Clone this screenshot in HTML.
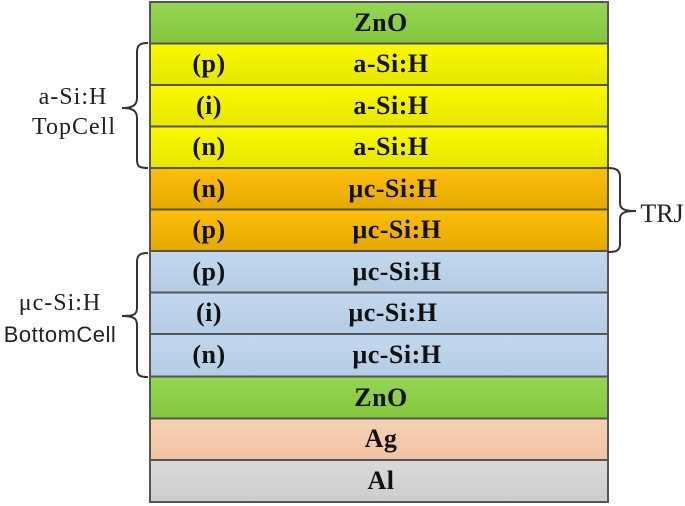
<!DOCTYPE html>
<html><head><meta charset="utf-8"><style>
html,body{margin:0;padding:0;background:#fff;width:685px;height:506px;overflow:hidden}
svg{display:block}
.t{font-family:"Liberation Serif",serif;font-weight:bold;font-size:26px;letter-spacing:0.5px;fill:#111}
.s{font-family:"Liberation Serif",serif;font-size:24px;letter-spacing:1px;fill:#222}
</style></head><body>
<svg width="685" height="506" viewBox="0 0 685 506" xmlns="http://www.w3.org/2000/svg">
<defs>
<linearGradient id="g" x1="0" y1="0" x2="0" y2="1"><stop offset="0" stop-color="#95d653"/><stop offset="1" stop-color="#84c73e"/></linearGradient>
<linearGradient id="y" x1="0" y1="0" x2="0" y2="1"><stop offset="0" stop-color="#fafa00"/><stop offset="1" stop-color="#e6e600"/></linearGradient>
<linearGradient id="o" x1="0" y1="0" x2="0" y2="1"><stop offset="0" stop-color="#fdbf0c"/><stop offset="1" stop-color="#e4a800"/></linearGradient>
<linearGradient id="b" x1="0" y1="0" x2="0" y2="1"><stop offset="0" stop-color="#c2d8ee"/><stop offset="1" stop-color="#b4cce3"/></linearGradient>
<linearGradient id="a" x1="0" y1="0" x2="0" y2="1"><stop offset="0" stop-color="#f6d2b6"/><stop offset="1" stop-color="#f0c4a2"/></linearGradient>
<linearGradient id="l" x1="0" y1="0" x2="0" y2="1"><stop offset="0" stop-color="#dadada"/><stop offset="1" stop-color="#cdcdcd"/></linearGradient>
</defs>
<g stroke="#555" stroke-width="2">
<rect x="150" y="2" width="458" height="41.5" fill="url(#g)"/>
<rect x="150" y="43.5" width="458" height="41.5" fill="url(#y)"/>
<rect x="150" y="85" width="458" height="41.5" fill="url(#y)"/>
<rect x="150" y="126.5" width="458" height="41.5" fill="url(#y)"/>
<rect x="150" y="168" width="458" height="41.5" fill="url(#o)"/>
<rect x="150" y="209.5" width="458" height="41.5" fill="url(#o)"/>
<rect x="150" y="251" width="458" height="41.5" fill="url(#b)"/>
<rect x="150" y="292.5" width="458" height="41.5" fill="url(#b)"/>
<rect x="150" y="334" width="458" height="42.5" fill="url(#b)"/>
<rect x="150" y="376.5" width="458" height="42" fill="url(#g)"/>
<rect x="150" y="418.5" width="458" height="41.5" fill="url(#a)"/>
<rect x="150" y="460" width="458" height="42" fill="url(#l)"/>
</g>
<g class="t" text-anchor="middle">
<text x="381" y="31">ZnO</text>
<text x="209" y="72">(p)</text><text x="391" y="72">a-Si:H</text>
<text x="209" y="114">(i)</text><text x="391" y="114">a-Si:H</text>
<text x="209" y="155">(n)</text><text x="391" y="155">a-Si:H</text>
<text x="209" y="197">(n)</text><text x="393" y="197">μc-Si:H</text>
<text x="209" y="238">(p)</text><text x="397" y="238">μc-Si:H</text>
<text x="209" y="280">(p)</text><text x="397" y="280">μc-Si:H</text>
<text x="209" y="321">(i)</text><text x="393" y="321">μc-Si:H</text>
<text x="209" y="363">(n)</text><text x="397" y="363">μc-Si:H</text>
<text x="381" y="406">ZnO</text>
<text x="381" y="447">Ag</text>
<text x="381" y="489">Al</text>
</g>
<g fill="none" stroke="#333" stroke-width="2">
<path d="M148,43 C140,43 137,45 137,52 L137,98 C137,105 133,108 122,108 C133,108 137,111 137,118 L137,160 C137,167 140,168 148,168"/>
<path d="M608,168 C616,168 620,170 620,177 L620,203 C620,209 624,211 636,211 C624,211 620,213 620,219 L620,244 C620,251 616,252 608,252"/>
<path d="M148,253 C140,253 137,255 137,262 L137,308 C137,315 133,316 122,316 C133,316 137,318 137,325 L137,369 C137,376 140,377 148,377"/>
</g>
<g class="s" text-anchor="middle">
<text x="73" y="104">a-Si:H</text>
<text x="74" y="134">TopCell</text>
<text x="60" y="310">μc-Si:H</text>
<text x="60" y="342" style="font-family:'Liberation Sans',sans-serif;font-size:22px;letter-spacing:0.5px">BottomCell</text>
<text x="662" y="222" style="font-size:26px;letter-spacing:0">TRJ</text>
</g>
</svg>
</body></html>
